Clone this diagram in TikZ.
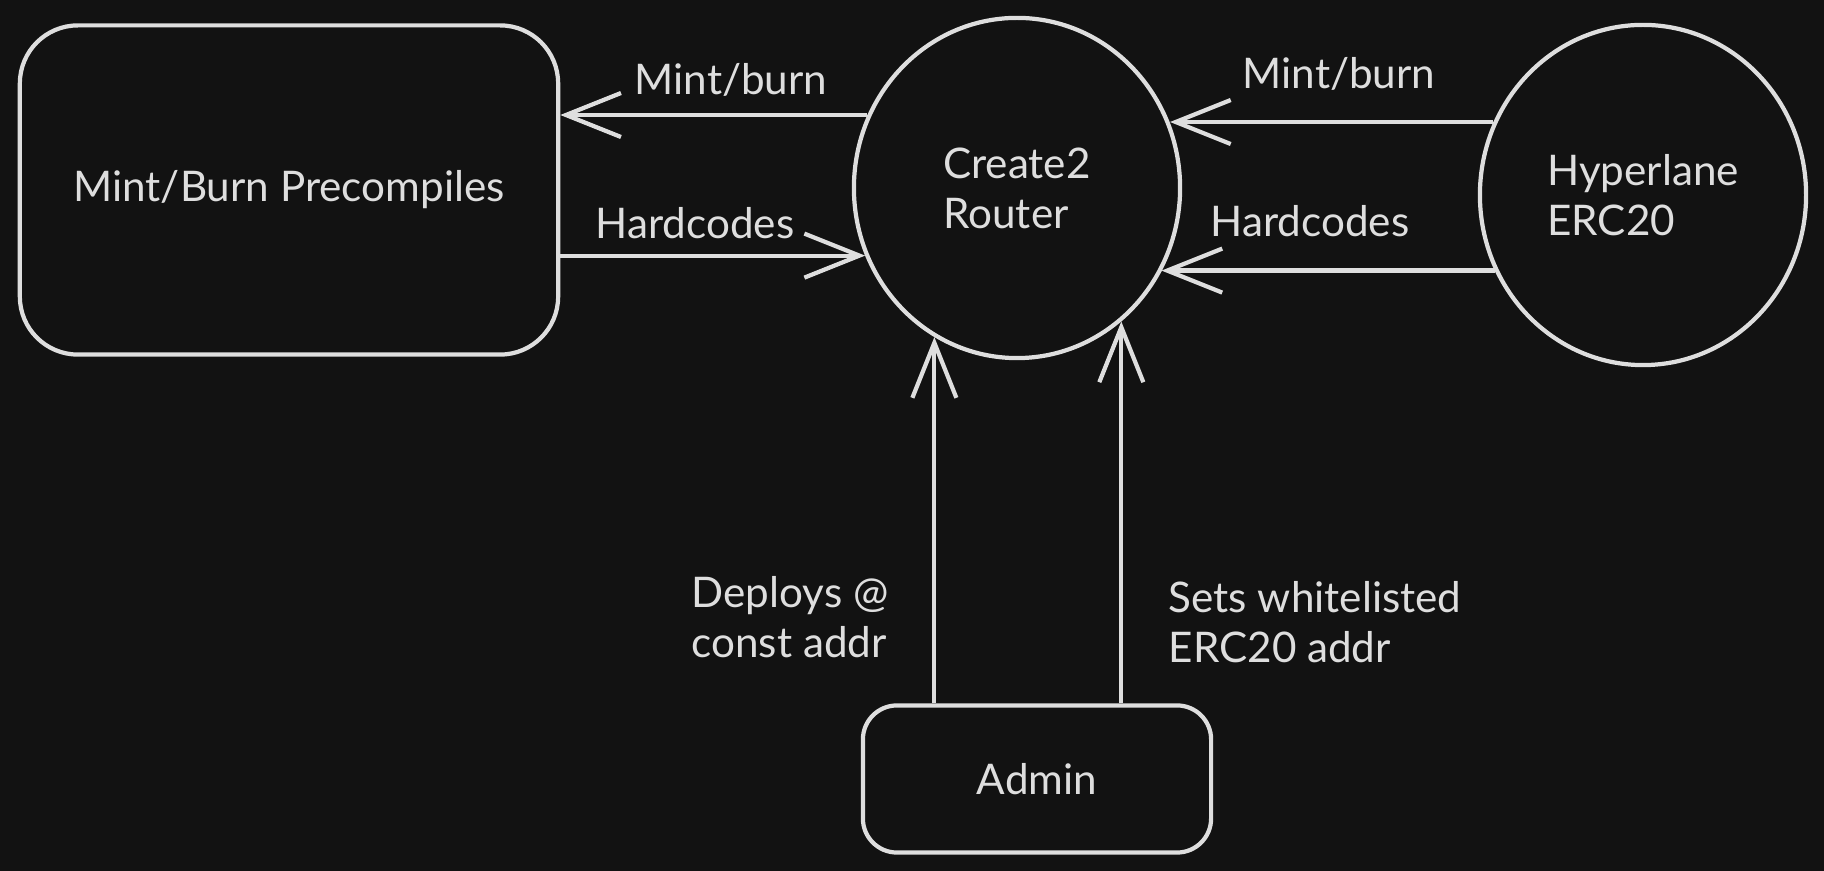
\documentclass[tikz,border=0pt]{standalone}
\usepackage{fontspec}
\setmainfont{Lato}
\usepackage{xcolor}
\usetikzlibrary {arrows.meta,
                 positioning,
                 shapes.geometric}
\definecolor{board}{RGB}{18,18,18}
\definecolor{chalk}{RGB}{222,222,222}
\tikzset{
        base/.style={draw=chalk, line width=1.2pt, text=chalk, align=center,
                     font=\fontsize{12}{14.2}\selectfont},
        block/.style={base, rectangle, rounded corners=5.8mm, minimum
        width=5.38cm, minimum height=3.29cm},
        adminbox/.style={base, rectangle, rounded corners=3.4mm,
                         minimum width=3.48cm, minimum height=1.47cm},
        disc/.style={base, ellipse, align=left, minimum width=3.26cm,
                     minimum height=3.40cm},
        note/.style={text=chalk, align=left, font=\fontsize{12}{14.2}\selectfont},
        flow/.style={-{Straight Barb[length=5.5mm, width=4.4mm]}, draw=chalk,
                     line width=1.2pt},
 }

\begin{document}
\begin{tikzpicture}[x=0.01cm, y=-0.01cm]
    \fill[board] (0,0) rectangle (1824,871);
    \useasboundingbox (0,0) rectangle (1824,871);

    \node[block] (precomp) at (289,190) {Mint/Burn Precompiles};
    \node[disc] (router) at (1017,188) {Create2\\Router};
    \node[disc] (hyper) at (1643,195) {Hyperlane\\ERC20};
    \node[adminbox] (admin) at (1037,779) {Admin};

    \draw[flow] (router.154) -- (router.154 -| precomp.east);
    \draw[flow] (precomp.east |- router.204) -- (router.204);
    \draw[flow] (hyper.154) -- (hyper.154 -| router.23);
    \draw[flow] (hyper.207) -- (hyper.207 -| router.330);
    \draw[flow] (admin.north -| router.241) -- (router.241);
    \draw[flow] (admin.north -| router.308) -- (router.308);

    \node[note] (mintl) at (731,80) {Mint/burn};
    \node[note] (hardl) at (695,223) {Hardcodes};
    \node[note] (mintr) at (1339,74) {Mint/burn};
    \node[note] (hardr) at (1310,221) {Hardcodes};
    \node[note] (deploy) at (790,617) {Deploys @\\const addr};
    \node[note] (whitelist) at (1315,622) {Sets whitelisted\\ERC20 addr};
\end{tikzpicture}
\end{document}
